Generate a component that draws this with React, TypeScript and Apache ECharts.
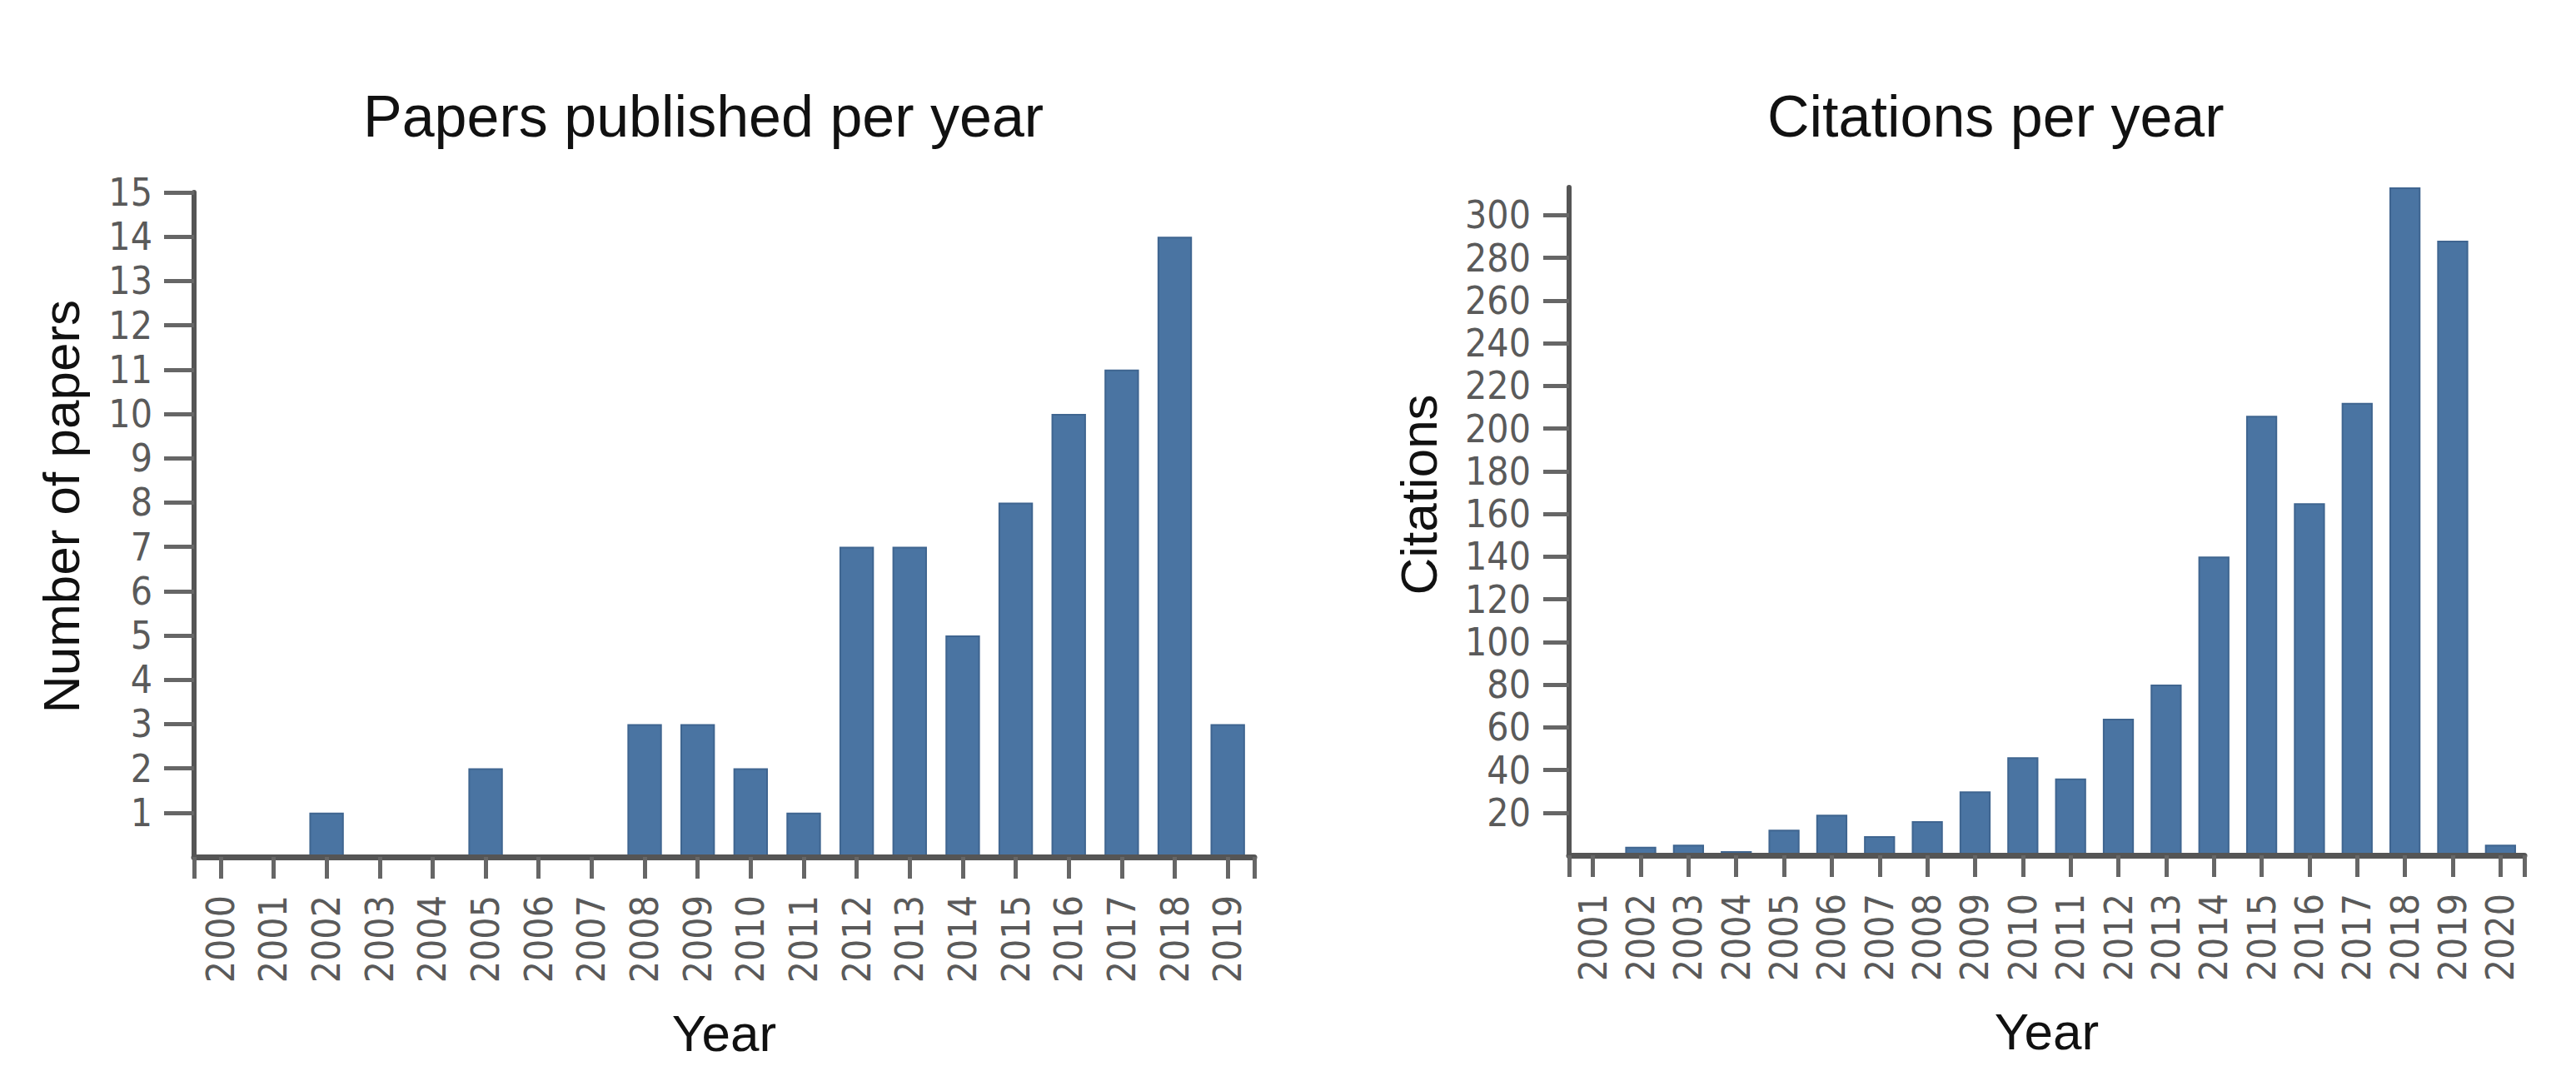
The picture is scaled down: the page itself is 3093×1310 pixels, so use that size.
import React, { useEffect, useRef } from "react";
import * as echarts from "echarts";

const paperYears = ["2000", "2001", "2002", "2003", "2004", "2005", "2006", "2007", "2008", "2009", "2010", "2011", "2012", "2013", "2014", "2015", "2016", "2017", "2018", "2019"];
const paperCounts = [0, 0, 1, 0, 0, 2, 0, 0, 3, 3, 2, 1, 7, 7, 5, 8, 10, 11, 14, 3];

const citationYears = ["2001", "2002", "2003", "2004", "2005", "2006", "2007", "2008", "2009", "2010", "2011", "2012", "2013", "2014", "2015", "2016", "2017", "2018", "2019", "2020"];
const citationCounts = [0, 4, 5, 2, 12, 19, 9, 16, 30, 46, 36, 64, 80, 140, 206, 165, 212, 313, 288, 5];

const chartTitles = ["Papers published per year", "Citations per year"];
const yAxisNames = ["Number of papers", "Citations"];
const xAxisName = "Year";

const BAR = "#4a74a2";
const BAR_EDGE = "#3f6590";
const AXIS = "#555555";
const TICK = "#666666";
const LABEL = "#5a5a5a";
const NAME = "#111111";
const TICK_FONT = "'DejaVu Sans Condensed', 'DejaVu Sans', sans-serif";
const TEXT_FONT = "'Liberation Sans', Arial, sans-serif";
const TICK_SIZE = 46;

function xAxes(gridIndex: number, data: string[]) {
  return [
    {
      gridIndex,
      type: "category",
      data,
      position: "bottom",
      z: 5,
      axisLine: { show: true, lineStyle: { color: AXIS, width: 7 } },
      axisTick: { show: true, alignWithLabel: true, length: 26, lineStyle: { color: TICK, width: 5 } },
      axisLabel: { rotate: 90, interval: 0, margin: 46, fontFamily: TICK_FONT, fontSize: TICK_SIZE, color: LABEL },
      name: xAxisName,
      nameLocation: "middle",
      nameGap: 180,
      nameTextStyle: { fontFamily: TEXT_FONT, fontSize: 62, color: NAME },
      splitLine: { show: false },
    },
    {
      gridIndex,
      type: "category",
      data,
      position: "bottom",
      z: 5,
      axisLine: { show: false },
      axisLabel: { show: false },
      axisTick: { show: true, interval: (i: number) => i === 0, length: 26, lineStyle: { color: TICK, width: 5 } },
      splitLine: { show: false },
    },
  ];
}

export default function App() {
  const ref = useRef<HTMLDivElement>(null);
  useEffect(() => {
    if (!ref.current) return;
    const chart = echarts.init(ref.current, null, { renderer: "svg" });
    const titleStyle = { fontFamily: TEXT_FONT, fontSize: 70, fontWeight: "normal", color: NAME };
    chart.setOption({
      animation: false,
      backgroundColor: "#ffffff",
      title: [
        { text: chartTitles[0], left: 431, top: 100, textStyle: titleStyle },
        { text: chartTitles[1], left: 2117, top: 100, textStyle: titleStyle },
      ],
      grid: [
        { left: 233, top: 231, width: 1273, height: 798 },
        { left: 1884, top: 225, width: 1147, height: 802 },
      ],
      xAxis: [...xAxes(0, paperYears), ...xAxes(1, citationYears)],
      yAxis: [
        {
          gridIndex: 0,
          type: "value",
          min: 0,
          max: 15,
          interval: 1,
          axisLine: { show: true, lineStyle: { color: AXIS, width: 6 } },
          axisTick: { show: true, length: 36, lineStyle: { color: TICK, width: 5 } },
          axisLabel: { showMinLabel: false, margin: 50, fontFamily: TICK_FONT, fontSize: TICK_SIZE, color: LABEL },
          splitLine: { show: false },
          name: yAxisNames[0],
          nameLocation: "middle",
          nameGap: 129,
          nameTextStyle: { fontFamily: TEXT_FONT, fontSize: 62, color: NAME, padding: [0, 0, 0, 44] },
        },
        {
          gridIndex: 1,
          type: "value",
          min: 0,
          max: 313,
          interval: 20,
          axisLine: { show: true, lineStyle: { color: AXIS, width: 6 } },
          axisTick: { show: true, length: 31, lineStyle: { color: TICK, width: 5 } },
          axisLabel: { showMinLabel: false, showMaxLabel: false, margin: 46, fontFamily: TICK_FONT, fontSize: TICK_SIZE, color: LABEL },
          splitLine: { show: false },
          name: yAxisNames[1],
          nameLocation: "middle",
          nameGap: 150,
          nameTextStyle: { fontFamily: TEXT_FONT, fontSize: 62, color: NAME, padding: [0, 0, 0, 64] },
        },
      ],
      series: [
        {
          type: "bar",
          xAxisIndex: 0,
          yAxisIndex: 0,
          data: paperCounts,
          barCategoryGap: "35%",
          itemStyle: { color: BAR, borderColor: BAR_EDGE, borderWidth: 2 },
        },
        {
          type: "bar",
          xAxisIndex: 2,
          yAxisIndex: 1,
          data: citationCounts,
          barCategoryGap: "35%",
          itemStyle: { color: BAR, borderColor: BAR_EDGE, borderWidth: 2 },
        },
      ],
    });
    return () => chart.dispose();
  }, []);
  return <div ref={ref} style={{ position: "absolute", left: 0, top: 0, width: 3093, height: 1310 }} />;
}
